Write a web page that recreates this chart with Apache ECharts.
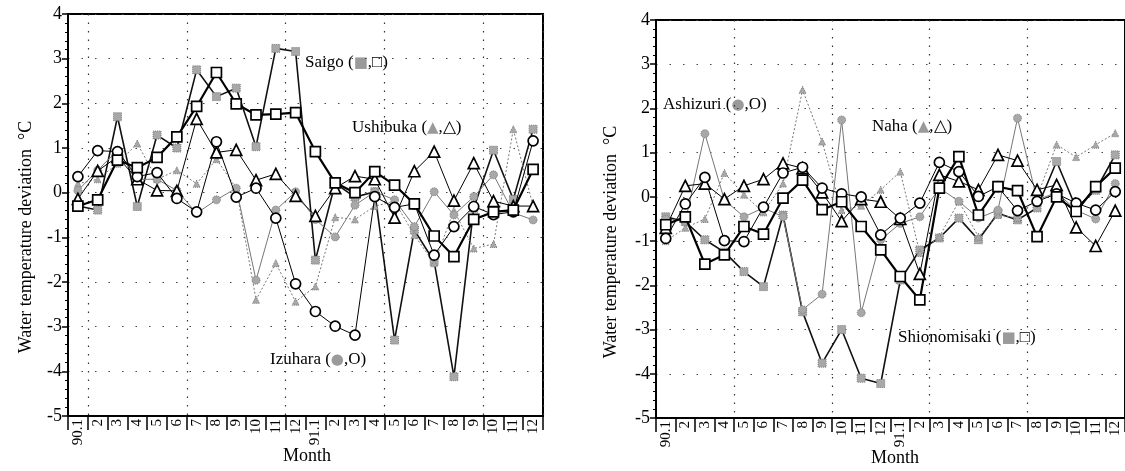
<!DOCTYPE html>
<html>
<head>
<meta charset="utf-8">
<script src="https://cdn.jsdelivr.net/npm/echarts@6/dist/echarts.min.js"></script>
<style>
  html, body { margin: 0; padding: 0; background: #fff; }
  #chart { width: 1125px; height: 471px; }
</style>
</head>
<body>
<div id="chart"></div>
<script>
// Month categories shared by both panels (Jan 1990 .. Dec 1991)
const months = ['90.1','2','3','4','5','6','7','8','9','10','11','12',
                '91.1','2','3','4','5','6','7','8','9','10','11','12'];
const yTicks = [-5, -4, -3, -2, -1, 0, 1, 2, 3, 4];

// Left panel: Saigo, Ushibuka, Izuhara (filled / open symbol series)
const saigoFilled    = [-0.30,-0.39,1.70,-0.31,1.29,1.00,2.75,2.15,2.34,1.03,3.23,3.16,-1.51,0.21,-0.10,0.02,-3.30,-0.84,-1.54,-4.12,-0.35,0.95,-0.15,1.42];
const saigoOpen      = [-0.30,-0.16,0.73,0.56,0.79,1.25,1.93,2.69,1.99,1.74,1.76,1.79,0.92,0.22,0.00,0.47,0.17,-0.25,-0.97,-1.43,-0.60,-0.43,-0.39,0.52];
const ushibukaFilled = [0.20,0.30,0.65,1.10,0.30,0.50,0.20,0.75,0.10,-2.40,-1.58,-2.44,-2.10,-0.55,-0.60,-0.30,-0.20,-0.95,-1.58,-0.40,-1.25,-1.15,1.42,-0.30];
const ushibukaOpen   = [-0.14,0.49,0.80,0.30,0.05,0.04,1.65,0.90,0.96,0.28,0.42,-0.07,-0.52,0.10,0.37,0.30,-0.56,0.48,0.92,-0.18,0.66,-0.19,-0.30,-0.30];
const izuharaFilled  = [0.05,0.50,0.95,0.30,0.30,0.05,-0.46,-0.16,0.10,-1.96,-0.39,0.02,-0.60,-0.99,-0.28,0.02,-0.16,-0.76,0.02,-0.50,-0.09,0.40,-0.45,-0.61];
const izuharaOpen    = [0.36,0.94,0.92,0.36,0.45,-0.13,-0.43,1.14,-0.10,0.10,-0.57,-2.04,-2.66,-2.99,-3.19,-0.09,-0.33,-0.25,-1.40,-0.76,-0.31,-0.49,-0.43,1.16];

// Right panel: Shionomisaki, Ashizuri, Naha
const shionoFilled   = [-0.45,-0.56,-0.97,-1.25,-1.69,-2.03,-0.41,-2.60,-3.76,-3.00,-4.10,-4.22,-1.88,-1.20,-0.93,-0.48,-0.97,-0.37,-0.52,-0.25,0.80,-0.25,0.15,0.95];
const shionoOpen     = [-0.63,-0.45,-1.52,-1.31,-0.67,-0.84,-0.03,0.38,-0.29,-0.11,-0.67,-1.20,-1.80,-2.33,0.20,0.91,-0.41,0.23,0.14,-0.90,0.00,-0.33,0.23,0.65];
const ashizuriFilled = [-0.50,-0.55,1.43,-0.07,-0.45,-0.25,-0.45,-2.55,-2.20,1.74,-2.62,-0.97,-0.60,-0.45,0.20,-0.10,-0.48,-0.30,1.78,-0.07,0.10,-0.30,-0.50,0.30];
const ashizuriOpen   = [-0.94,-0.16,0.44,-0.99,-1.01,-0.23,0.54,0.67,0.20,0.07,0.00,-0.86,-0.48,-0.14,0.78,0.57,0.01,0.23,-0.31,-0.10,0.07,-0.14,-0.30,0.12];
const nahaFilled     = [-1.00,-0.70,-0.50,0.54,0.05,-0.35,0.30,2.42,1.25,-0.30,-0.20,0.16,0.57,-1.27,-0.90,-0.10,-0.90,-0.41,-0.48,0.00,1.18,0.90,1.18,1.44];
const nahaOpen       = [-0.70,0.25,0.30,-0.05,0.25,0.40,0.76,0.65,0.10,-0.55,-0.05,-0.11,-0.50,-1.74,0.50,0.35,0.16,0.95,0.82,0.16,0.27,-0.69,-1.11,-0.31];

const SERIF = 'Liberation Serif';

function xAxisCfg(gridIndex, splitEvery, splitOffset) {
  return {
    type: 'category', gridIndex, data: months, boundaryGap: true,
    axisLine: { onZero: false, lineStyle: { color: '#000', width: 2 } },
    axisTick: { show: true, length: 14, lineStyle: { color: '#000', width: 1.5 } },
    axisLabel: { rotate: 90, fontFamily: SERIF, fontSize: 15, color: '#000', margin: 3, interval: 0 },
    splitLine: {
      show: true,
      interval: (i) => i % splitEvery === splitOffset,
      lineStyle: { color: '#333', type: [1.5, 7], width: 1.2 }
    }
  };
}
function yAxisCfg(gridIndex) {
  return {
    type: 'value', gridIndex, min: yTicks[0], max: yTicks[yTicks.length - 1], interval: 1,
    axisLine: { show: true, lineStyle: { color: '#000', width: 2 } },
    axisTick: { show: true, length: 6, lineStyle: { color: '#000', width: 1.5 } },
    minorTick: { show: true, splitNumber: 5, length: 3, lineStyle: { color: '#000' } },
    axisLabel: { fontFamily: SERIF, fontSize: 18, color: '#000', margin: 6 },
    splitLine: {
      show: true,
      interval: (i, v) => v === 3 || v === -2 || v === -3 || v === -4,
      lineStyle: { color: '#444', type: [1.5, 12], width: 1.2 }
    }
  };
}

const GRAY = '#a8a8a8';
function openSeries(name, data, shape, width, axis, size) {
  return {
    name, type: 'line', data, xAxisIndex: axis, yAxisIndex: axis,
    symbol: shape, symbolSize: size, z: 4,
    lineStyle: { color: '#000', width },
    itemStyle: { color: '#fff', borderColor: '#000', borderWidth: 1.7 }
  };
}
function filledSeries(name, data, shape, lineColor, lineType, width, axis, size) {
  return {
    name, type: 'line', data, xAxisIndex: axis, yAxisIndex: axis,
    symbol: shape, symbolSize: size, z: 3,
    lineStyle: { color: lineColor, width, type: lineType },
    itemStyle: { color: GRAY, borderColor: '#7a7a7a', borderWidth: 1, borderType: 'dotted' }
  };
}

function label(x, y, main, filledGlyph, openGlyph) {
  return {
    type: 'text', x, y,
    style: {
      text: main + ' ({g|' + filledGlyph + '},' + openGlyph + ')',
      font: '17px "' + SERIF + '"', fill: '#000',
      textVerticalAlign: 'middle',
      rich: { g: { fill: '#9a9a9a', font: '15px "DejaVu Sans"' } }
    }
  };
}

const chart = echarts.init(document.getElementById('chart'), null, { renderer: 'canvas' });
chart.setOption({
  animation: false,
  backgroundColor: '#fff',
  grid: [
    { left: 68, top: 14, width: 475, height: 402, show: true, borderColor: '#000', borderWidth: 2 },
    { left: 656, top: 20, width: 473, height: 398, show: true, borderColor: '#000', borderWidth: 2 }
  ],
  xAxis: [xAxisCfg(0, 5, 1), xAxisCfg(1, 5, 4)],
  yAxis: [yAxisCfg(0), yAxisCfg(1)],
  series: [
    filledSeries('Saigo ■', saigoFilled, 'rect', '#111', 'solid', 1.6, 0, 8),
    filledSeries('Ushibuka ▲', ushibukaFilled, 'triangle', '#777', [2, 2], 1, 0, 7),
    filledSeries('Izuhara ●', izuharaFilled, 'circle', '#777', 'solid', 1, 0, 8),
    openSeries('Ushibuka △', ushibukaOpen, 'triangle', 1, 0, 11),
    openSeries('Izuhara ○', izuharaOpen, 'circle', 1, 0, 10),
    openSeries('Saigo □', saigoOpen, 'rect', 2.2, 0, 10),

    filledSeries('Shionomisaki ■', shionoFilled, 'rect', '#111', 'solid', 1.6, 1, 8),
    filledSeries('Naha ▲', nahaFilled, 'triangle', '#777', [2, 2], 1, 1, 7),
    filledSeries('Ashizuri ●', ashizuriFilled, 'circle', '#777', 'solid', 1, 1, 8),
    openSeries('Naha △', nahaOpen, 'triangle', 1, 1, 11),
    openSeries('Ashizuri ○', ashizuriOpen, 'circle', 1, 1, 10),
    openSeries('Shionomisaki □', shionoOpen, 'rect', 2.2, 1, 10)
  ],
  graphic: [
    label(305, 63, 'Saigo', '■', '□'),
    label(352, 128, 'Ushibuka', '▲', '△'),
    label(270, 360, 'Izuhara', '●', 'O'),
    label(663, 105, 'Ashizuri', '●', 'O'),
    label(872, 127, 'Naha', '▲', '△'),
    label(898, 338, 'Shionomisaki', '■', '□'),
    { type: 'text', x: 26, y: 237, rotation: Math.PI / 2,
      style: { text: 'Water temperature deviation  °C', font: '18px "' + SERIF + '"', fill: '#000',
               textAlign: 'center', textVerticalAlign: 'middle' } },
    { type: 'text', x: 611, y: 242, rotation: Math.PI / 2,
      style: { text: 'Water temperature deviation  °C', font: '18px "' + SERIF + '"', fill: '#000',
               textAlign: 'center', textVerticalAlign: 'middle' } },
    { type: 'text', x: 307, y: 456,
      style: { text: 'Month', font: '18px "' + SERIF + '"', fill: '#000',
               textAlign: 'center', textVerticalAlign: 'middle' } },
    { type: 'text', x: 895, y: 458,
      style: { text: 'Month', font: '18px "' + SERIF + '"', fill: '#000',
               textAlign: 'center', textVerticalAlign: 'middle' } }
  ]
});
</script>
</body>
</html>
